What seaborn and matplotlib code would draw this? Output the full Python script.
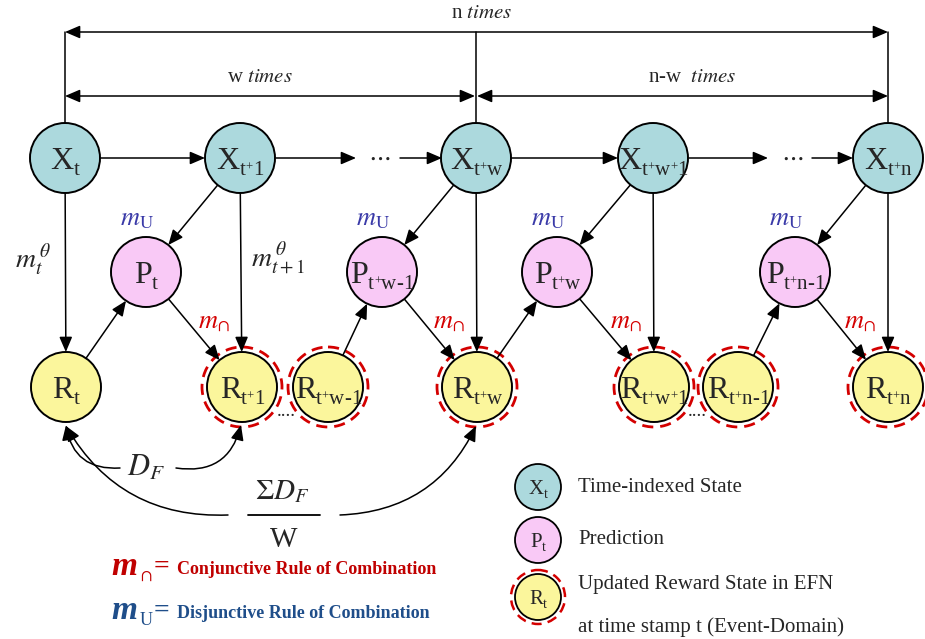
import numpy as np
import pandas as pd
import matplotlib
matplotlib.use("Agg")
import matplotlib.pyplot as plt
from matplotlib.patches import Circle
import seaborn as sns

# node labels and their kind (state X, prediction P, reward R)
x_nodes = ['t', 't+1', 't+w', 't+w+1', 't+n']
p_nodes = ['t', 't+w-1', 't+w', 't+n-1']
r_nodes = ['t', 't+1', 't+w-1', 't+w', 't+w+1', 't+n-1', 't+n']
ringed = ['t+1', 't+w-1', 't+w', 't+w+1', 't+n-1', 't+n']

# layout (pixel coords, y down)
x_pos = [65, 240, 476, 653, 888]
p_pos = [146, 382, 557, 795]
r_pos = [66, 242, 328, 477, 654, 738, 888]
row_y = {'X': 158, 'P': 272, 'R': 387}
R = 35

colors = {'X': '#acd9dd', 'P': '#f9c9f6', 'R': '#fbf69c'}
red = '#d40000'
blue_m = '#3a3aa8'

# edges between nodes
edges = [
    (('X', 't'), ('X', 't+1')), (('X', 't+w'), ('X', 't+w+1')),
    (('X', 't'), ('R', 't')), (('X', 't+1'), ('R', 't+1')), (('X', 't+w'), ('R', 't+w')),
    (('X', 't+w+1'), ('R', 't+w+1')), (('X', 't+n'), ('R', 't+n')),
    (('X', 't+1'), ('P', 't')), (('X', 't+w'), ('P', 't+w-1')),
    (('X', 't+w+1'), ('P', 't+w')), (('X', 't+n'), ('P', 't+n-1')),
    (('R', 't'), ('P', 't')), (('R', 't+w-1'), ('P', 't+w-1')),
    (('R', 't+w'), ('P', 't+w')), (('R', 't+n-1'), ('P', 't+n-1')),
    (('P', 't'), ('R', 't+1')), (('P', 't+w-1'), ('R', 't+w')),
    (('P', 't+w'), ('R', 't+w+1')), (('P', 't+n-1'), ('R', 't+n')),
]

pos = {}
for k, xs in zip(x_nodes, x_pos):
    pos[('X', k)] = (xs, row_y['X'])
for k, xs in zip(p_nodes, p_pos):
    pos[('P', k)] = (xs, row_y['P'])
for k, xs in zip(r_nodes, r_pos):
    pos[('R', k)] = (xs, row_y['R'])

nodes = pd.DataFrame([{'kind': k[0], 'sub': k[1], 'x': v[0], 'y': v[1]} for k, v in pos.items()])

sns.set_theme(style='white')
plt.rcParams['font.family'] = ['Liberation Serif', 'DejaVu Serif']
plt.rcParams['mathtext.fontset'] = 'stix'

fig = plt.figure(figsize=(9.25, 6.39), dpi=100)
ax = fig.add_axes([0, 0, 1, 1])
ax.set_xlim(0, 925)
ax.set_ylim(639, 0)
ax.axis('off')
renderer = fig.canvas.get_renderer()


def seq_text(cx, cy, pieces, **kw):
    # lay text pieces side by side, centred on cx; cy is the reference line
    widths = []
    for s, fs, dy in pieces:
        t = ax.text(0, 0, s, fontsize=fs, **kw)
        widths.append(t.get_window_extent(renderer).width)
        t.remove()
    x = cx - sum(widths) / 2
    for (s, fs, dy), w in zip(pieces, widths):
        ax.text(x, cy + dy, s, fontsize=fs, ha='left', va='baseline', zorder=4, **kw)
        x += w


def node_label(cx, cy, letter, sub, big=23, small=15):
    k = big / 23
    pieces = [(letter, big, 11 * k)]
    for ch in sub:
        if ch == '+':
            pieces.append(('+', small * 0.62, 13 * k))
        else:
            pieces.append((ch, small, 17 * k))
    seq_text(cx, cy, pieces)


s_big = (2 * R * 0.72) ** 2
sns.scatterplot(data=nodes, x='x', y='y', hue='kind', palette=colors, s=s_big,
                edgecolor='black', linewidth=1.4, legend=False, ax=ax, zorder=3)

for _, row in nodes.iterrows():
    node_label(row.x, row.y, row.kind, row['sub'])

for k in ringed:
    c = pos[('R', k)]
    ax.add_patch(Circle(c, 40, fill=False, ec=red, lw=2, ls=(0, (4, 2.5)), zorder=2))

arrow_kw = dict(arrowstyle='-|>,head_length=0.7,head_width=0.3', color='black', lw=1.1,
                shrinkA=0, shrinkB=0, mutation_scale=13)


def arrow(p0, p1, **kw):
    d = dict(arrow_kw)
    d.update(kw)
    ax.annotate('', xy=p1, xytext=p0, arrowprops=d, zorder=2)


for a, b in edges:
    (x0, y0), (x1, y1) = pos[a], pos[b]
    u = np.array([x1 - x0, y1 - y0], dtype=float)
    u /= np.hypot(*u)
    arrow((x0 + R * u[0], y0 + R * u[1]), (x1 - R * u[0], y1 - R * u[1]))

# chains with ellipsis
arrow((276, 158), (356, 158))
arrow((400, 158), (442, 158))
arrow((689, 158), (768, 158))
arrow((812, 158), (853, 158))
ax.text(379, 158, r'$\cdots$', ha='center', va='center', fontsize=18)
ax.text(792, 158, r'$\cdots$', ha='center', va='center', fontsize=18)
ax.text(286, 416, '....', ha='center', va='baseline', fontsize=14)
ax.text(697, 416, '....', ha='center', va='baseline', fontsize=14)

# span arrows on top
span_kw = dict(arrowstyle='<|-|>,head_length=0.7,head_width=0.3')
arrow((65, 32), (888, 32), **span_kw)
arrow((65, 96), (475, 96), **span_kw)
arrow((477, 96), (888, 96), **span_kw)
for xv in [65, 476, 888]:
    ax.plot([xv, xv], [32, 123], color='black', lw=1.1, zorder=1)
ax.text(482, 13, r'n $\mathit{times}$', ha='center', va='center', fontsize=15)
ax.text(260, 78, r'w $\mathit{times}$', ha='center', va='center', fontsize=15)
ax.text(692, 78, r'n-w  $\mathit{times}$', ha='center', va='center', fontsize=15)

# mass labels
for k in p_nodes:
    px, py = pos[('P', k)]
    ax.text(px - 9, py - 52, r'$m_{\mathrm{U}}$', color=blue_m, ha='center', va='center', fontsize=19)
for k in ['t+1', 't+w', 't+w+1', 't+n']:
    rx, ry = pos[('R', k)]
    ax.text(rx - 28, ry - 64, r'$m_{\cap}$', color=red, ha='center', va='center', fontsize=19)
ax.text(33, 260, r'$m_t^{\,\theta}$', ha='center', va='center', fontsize=20)
ax.text(278, 258, r'$m_{t+1}^{\,\theta}$', ha='center', va='center', fontsize=20)

# curved D_F arrows
arrow((120, 468), (66, 425), connectionstyle='arc3,rad=-0.45')
arrow((176, 468), (241, 425), connectionstyle='arc3,rad=0.45')
ax.text(146, 468, r'$D_F$', ha='center', va='center', fontsize=22)
arrow((228, 515), (66, 426), connectionstyle='arc3,rad=-0.3')
arrow((340, 515), (476, 426), connectionstyle='arc3,rad=0.3')
ax.plot([248, 320], [515, 515], color='black', lw=1.3)
ax.text(282, 492, r'$\Sigma D_F$', ha='center', va='center', fontsize=21)
ax.text(284, 540, 'W', ha='center', va='center', fontsize=21)

# bottom rule legend
rules = [('Conjunctive Rule of Combination', r'$\cap$', '#c00000', 570),
         ('Disjunctive Rule of Combination', 'U', '#1f4e8a', 614)]
for label, sym, col, yy in rules:
    ax.text(111, yy + 5, 'm', color=col, fontsize=24, fontweight='bold', fontstyle='italic',
            ha='left', va='baseline')
    ax.text(140, yy + 11, sym, color=col, fontsize=13, ha='left', va='baseline')
    ax.text(154, yy + 4, '=', color=col, fontsize=20, fontweight='bold', ha='left', va='baseline')
    ax.text(177, yy, label, color=col, fontsize=13, fontweight='bold', ha='left', va='center')

# node legend
leg = pd.DataFrame({'kind': ['X', 'P', 'R'], 'x': [538, 538, 538], 'y': [487, 540, 597]})
sns.scatterplot(data=leg, x='x', y='y', hue='kind', palette=colors, s=(2 * 23 * 0.72) ** 2,
                edgecolor='black', linewidth=1.3, legend=False, ax=ax, zorder=3)
for _, row in leg.iterrows():
    node_label(row.x, row.y, row.kind, 't', big=15, small=10)
ax.add_patch(Circle((538, 597), 27, fill=False, ec=red, lw=1.8, ls=(0, (4, 2.5)), zorder=2))
ax.text(578, 487, 'Time-indexed State', fontsize=15, ha='left', va='center')
ax.text(578, 540, 'Prediction', fontsize=15, ha='left', va='center')
ax.text(578, 585, 'Updated Reward State in EFN', fontsize=15, ha='left', va='center')
ax.text(578, 627, 'at time stamp t (Event-Domain)', fontsize=15, ha='left', va='center')

fig.savefig('out.png', dpi=100, facecolor='white')
